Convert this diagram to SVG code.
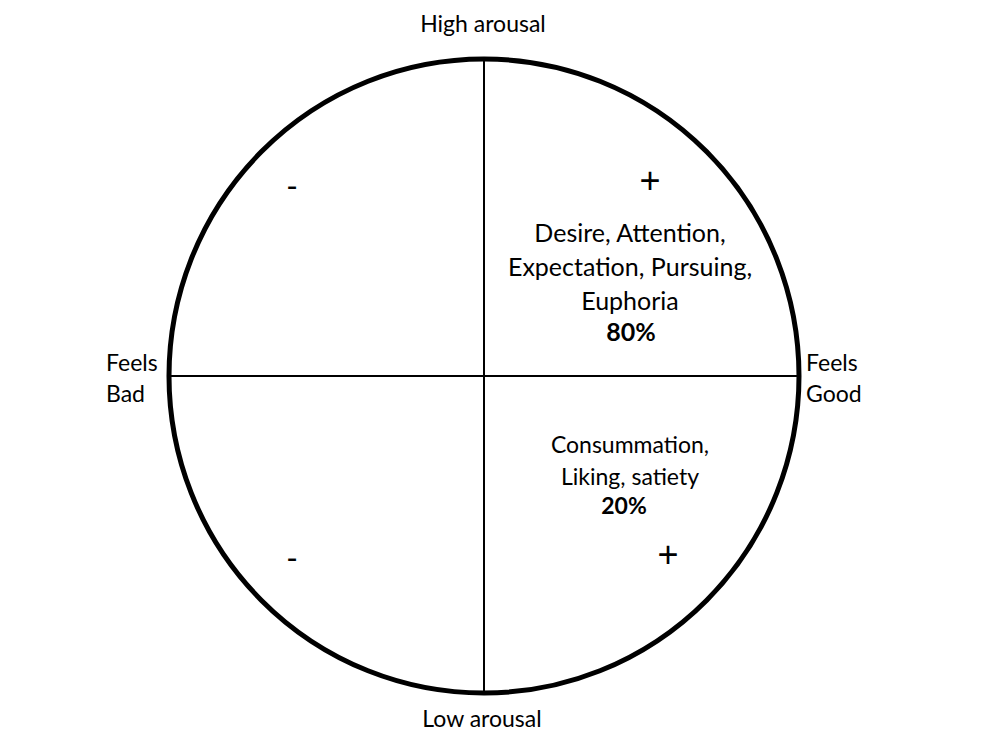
<svg xmlns="http://www.w3.org/2000/svg" width="1000" height="750" viewBox="0 0 1000 750">
<style>
text{font-family:Lato,"Open Sans","Liberation Sans",sans-serif;fill:#000}
.lbl{font-size:23px}
.q{font-size:25px;text-anchor:middle}
.q2{font-size:23px;text-anchor:middle}
.m{font-family:"Liberation Sans",Arial,sans-serif;font-size:32px;text-anchor:middle}
.p{font-family:"Liberation Sans",Arial,sans-serif;font-size:36px;text-anchor:middle}
.b{font-weight:bold}
</style>
<rect width="1000" height="750" fill="#fff"/>
<g id="connectors">
<line x1="484" y1="60" x2="484" y2="693" stroke="#000" stroke-width="2"/>
<line x1="170" y1="376" x2="798" y2="376" stroke="#000" stroke-width="2"/>
</g>
<g id="circle"><ellipse cx="484" cy="376" rx="315" ry="317" fill="none" stroke="#000" stroke-width="5"/></g>
<g id="high"><text class="lbl" x="483" y="32" text-anchor="middle">High arousal</text></g>
<g id="low"><text class="lbl" x="482" y="727" text-anchor="middle">Low arousal</text></g>
<g id="bad"><text class="lbl" x="106" y="371">Feels</text><text class="lbl" x="106" y="402">Bad</text></g>
<g id="good"><text class="lbl" x="806" y="371">Feels</text><text class="lbl" x="806" y="402">Good</text></g>
<g id="q1"><text class="m" x="292" y="196">-</text></g>
<g id="q2"><text class="p" x="650" y="193">+</text>
<text class="q" x="630" y="242">Desire, Attention,</text>
<text class="q" x="630" y="276">Expectation, Pursuing,</text>
<text class="q" x="630" y="310">Euphoria</text>
<text class="q b" x="631" y="341" font-size="21">80%</text></g>
<g id="q3"><text class="m" x="292" y="568">-</text></g>
<g id="q4"><text class="q2" x="630" y="453">Consummation,</text>
<text class="q2" x="630" y="485">Liking, satiety</text>
<text class="q2 b" x="624" y="514" font-size="21">20%</text>
<text class="p" x="668" y="567">+</text></g>
</svg>
